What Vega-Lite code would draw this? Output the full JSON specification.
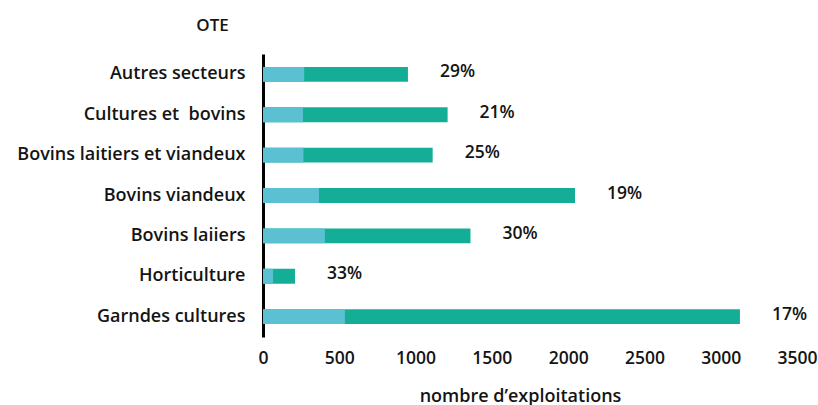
{
  "$schema": "https://vega.github.io/schema/vega-lite/v6.json",
  "autosize": {"type": "none"},
  "width": 534,
  "height": 283,
  "padding": {"left": 263, "top": 54, "right": 21, "bottom": 68},
  "background": "white",
  "config": {
    "view": {"stroke": null},
    "font": "Open Sans",
    "axis": {"labelFont": "Open Sans", "titleFont": "Open Sans", "labelFontWeight": 600, "titleFontWeight": 600, "labelColor": "#141414", "titleColor": "#141414"}
  },
  "data": {
    "values": [
      {"ote": "Autres secteurs", "petites": 270, "total": 950, "pct": "29%"},
      {"ote": "Cultures et\u00a0 bovins", "petites": 262, "total": 1210, "pct": "21%"},
      {"ote": "Bovins laitiers et viandeux", "petites": 265, "total": 1112, "pct": "25%"},
      {"ote": "Bovins viandeux", "petites": 367, "total": 2045, "pct": "19%"},
      {"ote": "Bovins laiiers", "petites": 406, "total": 1360, "pct": "30%"},
      {"ote": "Horticulture", "petites": 66, "total": 210, "pct": "33%"},
      {"ote": "Garndes cultures", "petites": 537, "total": 3126, "pct": "17%"}
    ]
  },
  "encoding": {
    "y": {
      "field": "ote", "type": "nominal", "sort": null,
      "scale": {"paddingInner": 0.63, "paddingOuter": 0.32},
      "axis": {
        "title": "OTE", "titleAngle": 0, "titleAlign": "center", "titleBaseline": "middle",
        "titleX": -51, "titleY": -29, "titleFontSize": 17,
        "labelFontSize": 18, "labelPadding": 18, "labelLimit": 0, "ticks": false,
        "domainColor": "black", "domainWidth": 3
      }
    }
  },
  "layer": [
    {
      "mark": {"type": "bar", "color": "#14AE96"},
      "encoding": {
        "x": {
          "field": "total", "type": "quantitative",
          "scale": {"domain": [0, 3500], "nice": false},
          "axis": {
            "title": "nombre d’exploitations", "values": [0, 500, 1000, 1500, 2000, 2500, 3000, 3500], "format": "d",
            "grid": false, "domain": false, "ticks": false,
            "labelFontSize": 17.5, "labelPadding": 12, "labelFlush": false,
            "titleFontSize": 18, "titleX": 257, "titleY": 59, "titleBaseline": "middle", "titleAlign": "center"
          }
        }
      }
    },
    {
      "mark": {"type": "bar", "color": "#5BC0D2"},
      "encoding": {"x": {"field": "petites", "type": "quantitative"}}
    },
    {
      "mark": {"type": "text", "align": "left", "baseline": "middle", "dx": 32, "dy": -2, "fontSize": 17.5, "fontWeight": 600, "font": "Open Sans", "color": "#141414"},
      "encoding": {
        "x": {"field": "total", "type": "quantitative"},
        "text": {"field": "pct", "type": "nominal"}
      }
    }
  ]
}
